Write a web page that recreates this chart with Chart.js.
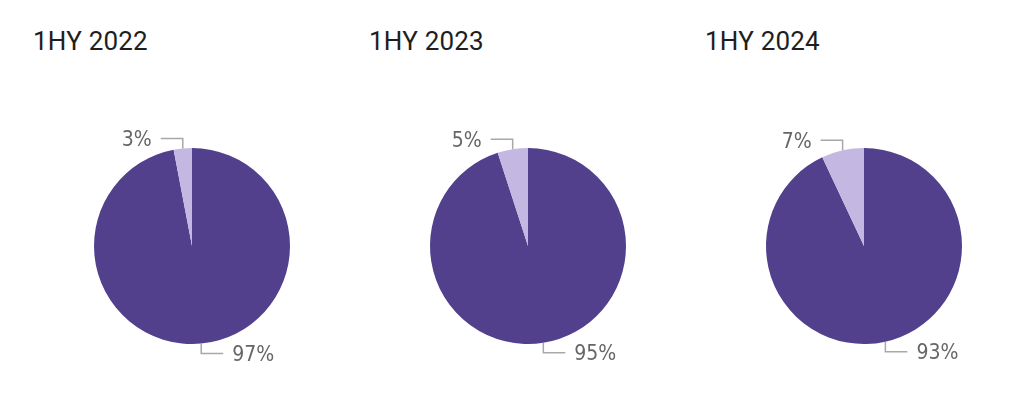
<!DOCTYPE html>
<html>
<head>
<meta charset="utf-8">
<script src="https://cdn.jsdelivr.net/npm/chart.js@4.4.1/dist/chart.umd.min.js"></script>
<style>
  body { margin: 0; background: #fff; width: 1034px; height: 404px; overflow: hidden; }
  .panel { position: absolute; top: 0; width: 336px; height: 404px; }
  .panel h2 {
    position: absolute; left: 9px; top: 26px; margin: 0;
    font: 400 26px Roboto, sans-serif; color: #1e1e1e; letter-spacing: 0.2px;
  }
  .panel canvas { position: absolute; left: 0; top: 0; }
</style>
</head>
<body>
<div id="charts"></div>
<script>
const periods = ['1HY 2022', '1HY 2023', '1HY 2024'];
const mainShare = [97, 95, 93];
const otherShare = [3, 5, 7];
const sliceColors = ['#52408d', '#c4b8e2'];

// labels with little elbow leader lines
const leaderLabels = {
    id: 'leaderLabels',
    afterDraw(chart) {
        const ctx = chart.ctx;
        const meta = chart.getDatasetMeta(0);
        const values = chart.data.datasets[0].data;
        meta.data.forEach(function(arc, i) {
            const p = arc.getProps(['x', 'y', 'startAngle', 'endAngle', 'outerRadius'], true);
            const mid = (p.startAngle + p.endAngle) / 2;
            const x0 = p.x + Math.cos(mid) * p.outerRadius;
            const y0 = p.y + Math.sin(mid) * p.outerRadius;
            const dy = Math.sin(mid) < 0 ? -1 : 1;
            const dx = Math.cos(mid) < 0 ? -1 : 1;
            const y1 = y0 + dy * 10;
            const x1 = x0 + dx * 22;
            ctx.save();
            ctx.strokeStyle = '#a8a8a8';
            ctx.lineWidth = 1.5;
            ctx.beginPath();
            ctx.moveTo(x0, y0);
            ctx.lineTo(x0, y1);
            ctx.lineTo(x1, y1);
            ctx.stroke();
            ctx.fillStyle = '#666';
            ctx.font = '21px "DejaVu Sans Condensed", "DejaVu Sans", sans-serif';
            ctx.textBaseline = 'middle';
            ctx.textAlign = dx < 0 ? 'right' : 'left';
            ctx.fillText(values[i] + '%', x1 + dx * 9, y1 + 2);
            ctx.restore();
        });
    }
};

const holder = document.getElementById('charts');
periods.forEach(function(period, i) {
    const panel = document.createElement('div');
    panel.className = 'panel';
    panel.style.left = (24 + i * 336) + 'px';
    const title = document.createElement('h2');
    title.textContent = period;
    const canvas = document.createElement('canvas');
    canvas.width = 336;
    canvas.height = 404;
    panel.appendChild(title);
    panel.appendChild(canvas);
    holder.appendChild(panel);

    new Chart(canvas.getContext('2d'), {
        type: 'pie',
        data: {
            labels: ['Main', 'Other'],
            datasets: [{
                data: [mainShare[i], otherShare[i]],
                backgroundColor: sliceColors,
                borderWidth: 0
            }]
        },
        options: {
            responsive: false,
            animation: false,
            layout: { padding: { top: 148, bottom: 60, left: 70, right: 70 } },
            plugins: {
                legend: { display: false },
                tooltip: { enabled: false }
            }
        },
        plugins: [leaderLabels]
    });
});
</script>
</body>
</html>
